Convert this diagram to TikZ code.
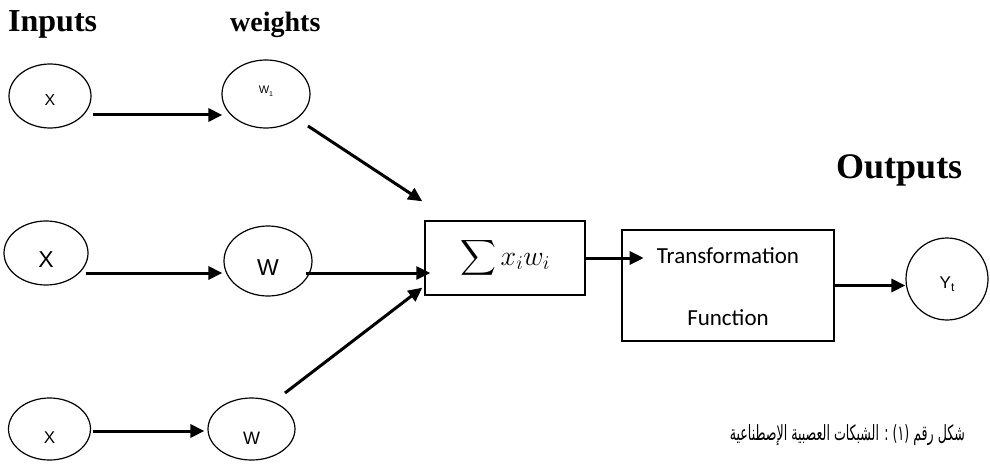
\RequirePackage{fix-cm}
\documentclass[tikz,border=0pt]{standalone}
\usepackage{exscale}
\usepackage{fontspec}
\usetikzlibrary{shapes.geometric,arrows.meta,calc}
\TeXXeTstate=1
\setmainfont{Liberation Serif}
\newfontfamily\arialf{Liberation Sans}
\newfontfamily\calf{Carlito}
\newfontfamily\arabicfont[Script=Arabic]{DejaVu Sans}
\begin{document}
\begin{tikzpicture}[x=1pt,y=-1pt,
  ell/.style={draw, ellipse, line width=1.2pt, inner sep=0pt},
  arr/.style={line width=3pt, -{Triangle[length=14pt,width=13pt]}},
  boxst/.style={draw, rectangle, line width=1.4pt, inner sep=0pt},
  lbl/.style={inner sep=0pt, font=\bfseries\fontsize{32}{32}\selectfont},
  txt/.style={inner sep=0pt}]
\useasboundingbox (0,0) rectangle (990,468);

% input ellipses
\node[ell, minimum width=82pt, minimum height=64pt,
  label={[font=\arialf\fontsize{16}{16}\selectfont, yshift=-4pt]center:X}] (in1) at (50,96) {};
\node[ell, minimum width=84pt, minimum height=64pt,
  label={[font=\arialf\fontsize{23}{23}\selectfont, yshift=-7pt]center:X}] (in2) at (46,253) {};
\node[ell, minimum width=82pt, minimum height=62pt,
  label={[font=\arialf\fontsize{17}{17}\selectfont, yshift=-9pt]center:X}] (in3) at (49.5,429) {};

% weight ellipses
\node[ell, minimum width=88pt, minimum height=68pt,
  label={[font=\arialf\fontsize{11}{11}\selectfont, yshift=3pt]center:W\raisebox{-2.5pt}{\fontsize{7}{7}\selectfont 1}}] (w1) at (266,94) {};
\node[ell, minimum width=88pt, minimum height=70pt,
  label={[font=\arialf\fontsize{23}{23}\selectfont, yshift=-7pt]center:W}] (w2) at (268,261) {};
\node[ell, minimum width=87pt, minimum height=62pt,
  label={[font=\arialf\fontsize{18}{18}\selectfont, yshift=-9pt]center:W}] (w3) at (251.5,429) {};

% summation box
\node[boxst, minimum width=160pt, minimum height=74pt, font=\fontsize{28}{28}\selectfont] (sum) at (505,258) {$\displaystyle\sum x_i w_i$};

% transformation box
\node[boxst, minimum width=212pt, minimum height=111pt] (trans) at (728,285.5) {};
\node[txt, anchor=base, font=\calf\fontsize{23}{23}\selectfont] (tT) at (728,263) {Transformation};
\node[txt, anchor=base, font=\calf\fontsize{23}{23}\selectfont] (tF) at (728,325) {Function};

% output circle
\node[draw, circle, line width=1.2pt, minimum size=82pt, inner sep=0pt,
  label={[font=\arialf\fontsize{17}{17}\selectfont, yshift=-5pt]center:Y\raisebox{-3pt}{\fontsize{12}{12}\selectfont t}}] (yt) at (947,279) {};

% headings
\node[lbl, anchor=base west] (lIn) at (8,32) {Inputs};
\node[lbl, anchor=base west, font=\bfseries\fontsize{28}{28}\selectfont] (lW) at (230,32) {weights};
\node[lbl, anchor=base west, font=\bfseries\fontsize{36}{36}\selectfont] (lOut) at (836,178) {Outputs};

% caption
\node[txt, anchor=base east, font=\arabicfont\fontsize{21}{21}\selectfont] (cap) at (965,440) {\scalebox{0.6}[1]{\beginR شكل رقم (١) : الشبكات العصبية الإصطناعية\endR}};

% arrows
\draw[arr] ($(in1.east)+(1,19)$) -- ($(w1.west)+(1,21)$);
\draw[arr] ($(in2.east)+(-3,20)$) -- ($(w2.west)+(-1,12)$);
\draw[arr] ($(in3.east)+(1.5,2)$) -- ($(w3.west)+(-3,2)$);
\draw[arr] ($(w1.center)+(42,32)$) -- ($(sum.north west)+(-2,-19)$);
\draw[arr] ($(w2.east)+(-7,12)$) -- ($(sum.west)+(6,15)$);
\draw[arr] ($(w3.center)+(33.5,-36)$) -- ($(sum.south west)+(-2,-8)$);
\draw[arr] (sum.east) -- ($(sum.east)+(58,0)$);
\draw[arr] (trans.east) -- (trans.east -| yt.west);
\end{tikzpicture}
\end{document}
